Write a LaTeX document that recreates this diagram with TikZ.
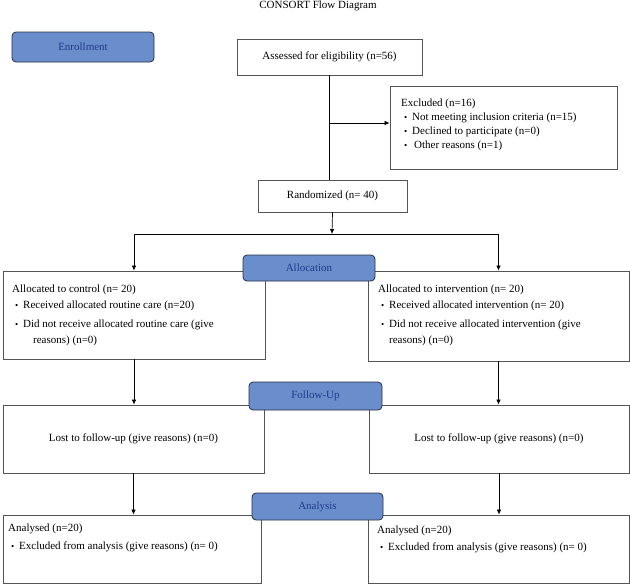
\documentclass[tikz,border=0pt]{standalone}
\usepackage{fontspec}
\setmainfont{Liberation Serif}
\usetikzlibrary{arrows.meta}
\definecolor{stagefill}{RGB}{106,142,204}
\definecolor{stageline}{RGB}{38,48,68}
\definecolor{stagetext}{RGB}{32,58,140}
\definecolor{boxline}{RGB}{85,85,85}
\def\bul{\hspace*{3pt}\makebox[8pt][l]{\raisebox{.5pt}{\small\textbullet}}}
\tikzset{
	stage/.style={draw=stageline, fill=stagefill, rounded corners=4pt, line width=.8pt, text=stagetext, inner sep=0pt},
	flowbox/.style={draw=boxline, line width=.8pt, inner sep=0pt, fill=white},
	boxtext/.style={inner sep=0pt, align=left, anchor=north west},
	arr/.style={-{Latex[length=5pt,width=4.5pt]}, line width=.7pt},
}

\begin{document}
\begin{tikzpicture}[x=1pt,y=-1pt,font=\fontsize{11}{15}\selectfont]
			\useasboundingbox (0,0) rectangle (630,584);
			\node (title) at (318,6) {CONSORT Flow Diagram};
			\node[flowbox, minimum width=185pt, minimum height=36pt] (assess) at (329.5,57) {Assessed for eligibility (n=56)};
			\node[flowbox, minimum width=227pt, minimum height=83pt] (excl) at (503.5,127.5) {};
			\node[boxtext, font=\fontsize{11}{14}\selectfont] (excltxt) at (401,99) {Excluded (n=16)\\\bul Not meeting inclusion criteria (n=15)\\\bul Declined to participate (n=0)\\\bul\hspace*{2pt}Other reasons (n=1)};
			\node[flowbox, minimum width=149pt, minimum height=32pt] (rand) at (332.5,196) {Randomized (n= 40)};
			\node[flowbox, minimum width=262pt, minimum height=88pt] (ctrl) at (134,315) {};
			\node[boxtext, font=\fontsize{11}{16}\selectfont] (ctrltxt) at (12,285) {Allocated to control (n= 20)\\\bul Received allocated routine care (n=20)\\[3pt]\bul Did not receive allocated routine care (give\\\hspace*{21pt}reasons) (n=0)};
			\node[flowbox, minimum width=261pt, minimum height=90pt] (intv) at (498.5,316) {};
			\node[boxtext, font=\fontsize{11}{16}\selectfont] (intvtxt) at (378,285) {Allocated to intervention (n= 20)\\\bul Received allocated intervention (n= 20)\\[3pt]\bul Did not receive allocated intervention (give\\\hspace*{11pt}reasons) (n=0)};
			\node[flowbox, minimum width=261pt, minimum height=68pt] (lostc) at (133.5,439) {Lost to follow-up (give reasons) (n=0)};
			\node[flowbox, minimum width=260pt, minimum height=68pt] (losti) at (499,439) {Lost to follow-up (give reasons) (n=0)};
			\node[flowbox, minimum width=258pt, minimum height=68pt] (anac) at (132,549) {};
			\node[boxtext, font=\fontsize{11}{18}\selectfont] (anactxt) at (8,524) {Analysed (n=20)\\\bul Excluded from analysis (give reasons) (n= 0)};
			\node[flowbox, minimum width=261pt, minimum height=68pt] (anai) at (498.5,549) {};
			\node[boxtext, font=\fontsize{11}{17}\selectfont] (anaitxt) at (377,526) {Analysed (n=20)\\\bul Excluded from analysis (give reasons) (n= 0)};
			\node[stage, minimum width=142pt, minimum height=30pt] (enroll) at (83,47) {Enrollment};
			\node[stage, minimum width=132pt, minimum height=26pt] (alloc) at (309,268) {Allocation};
			\node[stage, minimum width=133pt, minimum height=28pt] (follow) at (315.5,396) {Follow-Up};
			\node[stage, minimum width=131pt, minimum height=27pt] (analys) at (317.5,506.5) {Analysis};
			\coordinate (split) at (330,123);
			\coordinate (fork) at (332,234);
			\draw[line width=.7pt] (assess.south) -- (assess.south |- rand.north);
			\draw[arr] (split) -- (split -| excl.west);
			\draw[arr] (rand.south) -- (fork);
			\draw[arr] (fork) -| (ctrl.north);
			\draw[arr] (fork) -| (intv.north);
			\draw[arr] (ctrl.south) -- (ctrl.south |- lostc.north);
			\draw[arr] (intv.south) -- (intv.south |- losti.north);
			\draw[arr] (lostc.south) -- (lostc.south |- anac.north);
			\draw[arr] (losti.south) -- (losti.south |- anai.north);
		\end{tikzpicture}
\end{document}
